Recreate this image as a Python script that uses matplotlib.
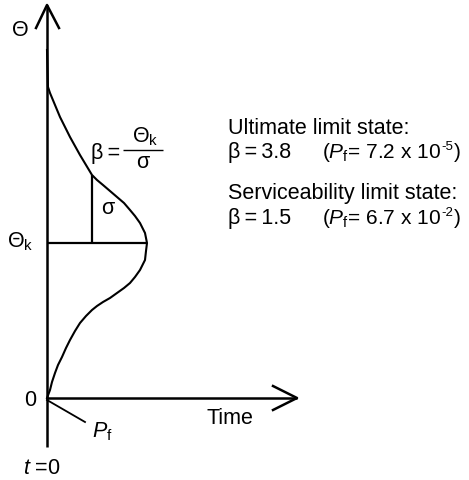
import matplotlib

matplotlib.use("Agg")
import matplotlib.pyplot as plt

# drawing units: 1 unit ~ 1 px, origin where the Time and Theta axes meet
# density curve of the resistance, drawn sideways (theta up, density right)
CURVE_THETA = [348, 330, 311, 305, 293, 281, 271, 261, 252, 243, 233, 223, 218,
               213, 207, 201, 195, 188, 182, 175, 165, 155, 147, 138, 128, 121,
               115, 110, 105, 100, 96, 92, 88, 82, 75, 67, 58, 50, 41, 33, 25,
               16, 8, 0]
CURVE_DENS = [0, 0.5, 1, 3, 8, 13, 18, 23, 28, 33, 39, 45, 50,
              56, 63, 70, 77, 83, 88, 93, 98, 100, 99, 98, 93, 88,
              83, 77, 70, 63, 56, 50, 45, 39, 33, 28, 23, 19, 15, 11, 8,
              5, 3, 0]
THETA_K = 155          # characteristic value level
SIGMA_AT = 45          # where the sigma bar is drawn (on the density axis)

STATES = ["Ultimate limit state:", "Serviceability limit state:"]
BETAS = [3.8, 1.5]
PF_MANT = [7.2, 6.7]
PF_EXP = [-5, -2]

plt.rcParams["font.family"] = ["Liberation Sans", "DejaVu Sans"]
plt.rcParams["mathtext.fontset"] = "custom"
plt.rcParams["mathtext.rm"] = "Liberation Sans"
plt.rcParams["mathtext.it"] = "Liberation Sans:italic"
plt.rcParams["mathtext.sf"] = "Liberation Sans"

FS = 15.5
TS = "\u2009"   # thin space
K = dict(color="black", solid_capstyle="butt")

fig = plt.figure(figsize=(4.69, 4.80), dpi=100)
ax = fig.add_axes([0, 0, 1, 1])
ax.set_xlim(-47, 422)
ax.set_ylim(-82, 398)
ax.axis("off")

# axes with open arrow heads
ax.plot([0, 0], [-49, 393], lw=1.8, **K)
ax.plot([-11, 0, 12], [370, 393, 370], lw=1.8, color="black")
ax.plot([0, 250], [0, 0], lw=1.8, **K)
ax.plot([226, 250, 226], [12, 0, -12], lw=1.8, color="black")

# density curve, Theta_k level and sigma bar
ax.plot(CURVE_DENS, CURVE_THETA, lw=1.5, color="black")
ax.plot([0, max(CURVE_DENS)], [THETA_K, THETA_K], lw=1.6, **K)
top = [t for t, d in zip(CURVE_THETA, CURVE_DENS) if d == SIGMA_AT][0]
ax.plot([SIGMA_AT, SIGMA_AT], [THETA_K, top], lw=1.6, **K)
ax.text(SIGMA_AT + 16, (THETA_K + top) / 2, "σ", fontsize=FS,
        ha="center", va="center")

# failure probability pointer
ax.plot([0, 38], [-2, -24], lw=1.3, color="black")
ax.text(45, -34, r"$P_\mathrm{f}$", fontsize=FS, ha="left", va="center")

# axis labels
ax.text(-27, 367, "Θ", fontsize=FS, ha="center", va="center")
ax.text(-27, THETA_K + 1, r"$\Theta_\mathrm{k}$", fontsize=FS, ha="center",
        va="center")
ax.text(-17, -2, "0", fontsize=FS, ha="center", va="center")
ax.text(183, -21, "Time", fontsize=FS, ha="center", va="center")
ax.text(-5, -70, r"$t$ =0", fontsize=FS, ha="center", va="center")

# beta = Theta_k / sigma
ax.text(73, 245, f"β{TS}=", fontsize=FS, ha="right", va="center")
ax.plot([76, 116], [248, 248], lw=1.0, **K)
ax.text(98, 261, r"$\Theta_\mathrm{k}$", fontsize=FS, ha="center",
        va="center")
ax.text(96, 235, "σ", fontsize=FS, ha="center", va="center")

# limit state annotations
ys = [270, 204]
for y, name, b, m, e in zip(ys, STATES, BETAS, PF_MANT, PF_EXP):
    base = y - 30
    ax.text(181, y, name, fontsize=FS, ha="left", va="center")
    ax.text(181, base, f"β{TS}={TS}{b}", fontsize=FS, ha="left",
            va="baseline")
    t1 = ax.text(275, base, rf"($P_\mathrm{{f}}$= {m} x 10", fontsize=15,
                 ha="left", va="baseline")
    t2 = ax.annotate(str(e), xy=(1, 1), xycoords=t1, xytext=(0.2, 0),
                     textcoords="offset points", fontsize=9.5, ha="left",
                     va="top")
    ax.annotate(")", xy=(1, base), xycoords=(t2, "data"), xytext=(0.2, 0),
                textcoords="offset points", fontsize=15, ha="left",
                va="baseline")

fig.savefig("out.png", dpi=100)
